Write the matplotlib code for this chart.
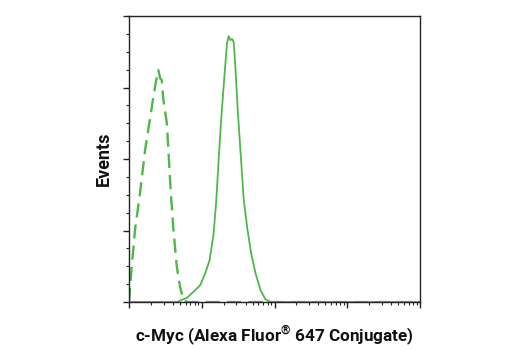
import numpy as np
import matplotlib.pyplot as plt
from matplotlib.ticker import MultipleLocator, LogLocator, NullFormatter

# x in decades (log10 of intensity, offset), y in % of max
iso_x = [0.0, 0.037, 0.083, 0.152, 0.221, 0.28, 0.335, 0.382, 0.404, 0.428, 0.451,
         0.473, 0.52, 0.542, 0.575, 0.611, 0.658, 0.703, 0.749, 0.8, 1.0, 2.0, 3.0, 4.0]
iso_y = [0.0, 12.2, 25.2, 38.1, 53.1, 62.6, 71.7, 78.7, 81.1, 78.3, 77.6,
         70.6, 62.6, 53.1, 38.1, 25.2, 12.2, 5.2, 0.7, 0.0, 0.0, 0.0, 0.0, 0.0]

myc_x = [0.0, 0.5, 0.658, 0.796, 0.887, 0.979, 1.048, 1.108, 1.163, 1.2, 1.232, 1.269,
         1.31, 1.347, 1.37, 1.393, 1.416, 1.439, 1.462, 1.494, 1.531, 1.577, 1.623,
         1.678, 1.738, 1.807, 1.876, 1.945, 2.5, 3.0, 4.0]
myc_y = [0.0, 0.0, 0.0, 1.5, 3.6, 5.9, 10.1, 14.7, 24.0, 35.7, 49.7, 64.7,
         78.7, 90.6, 93.0, 91.6, 92.0, 90.9, 82.2, 67.1, 53.1, 35.7, 26.2,
         17.1, 10.1, 4.2, 0.9, 0.0, 0.0, 0.0, 0.0]

green = "#4db848"

plt.rcParams["mathtext.fontset"] = "custom"
plt.rcParams["mathtext.rm"] = "Roboto:bold"
plt.rcParams["mathtext.bf"] = "Roboto:bold"

fig = plt.figure(figsize=(5.2, 3.5), dpi=100)
ax = fig.add_axes([0.248, 0.137, 0.56, 0.817])

ax.plot(10 ** np.array(iso_x), iso_y, color=green, lw=1.7, ls=(0, (6, 3)))
ax.plot(10 ** np.array(myc_x), myc_y, color=green, lw=1.3)

ax.set_xscale("log")
ax.set_xlim(1, 1e4)
ax.set_ylim(0, 100)
ax.xaxis.set_major_locator(LogLocator(base=10, numticks=10))
ax.xaxis.set_minor_locator(LogLocator(base=10, subs=np.arange(2, 10), numticks=10))
ax.xaxis.set_major_formatter(NullFormatter())
ax.xaxis.set_minor_formatter(NullFormatter())
ax.yaxis.set_major_locator(MultipleLocator(25))
ax.yaxis.set_minor_locator(MultipleLocator(6.25))
ax.yaxis.set_major_formatter(NullFormatter())
ax.tick_params(which="major", length=4, width=1, color="#222222")
ax.tick_params(which="minor", length=2.5, width=0.8, color="#222222")
for s in ax.spines.values():
    s.set_linewidth(1)
    s.set_color("#222222")

font = ["Roboto", "DejaVu Sans"]
ax.set_xlabel("c-Myc (Alexa Fluor$^{\u00ae}$ 647 Conjugate)", family=font,
              fontweight="bold", fontsize=12.3, labelpad=8, color="#111111")
ax.set_ylabel("Events", family=font, fontweight="bold", fontsize=13, labelpad=4,
              color="#111111")

fig.savefig("out.png", dpi=100)
